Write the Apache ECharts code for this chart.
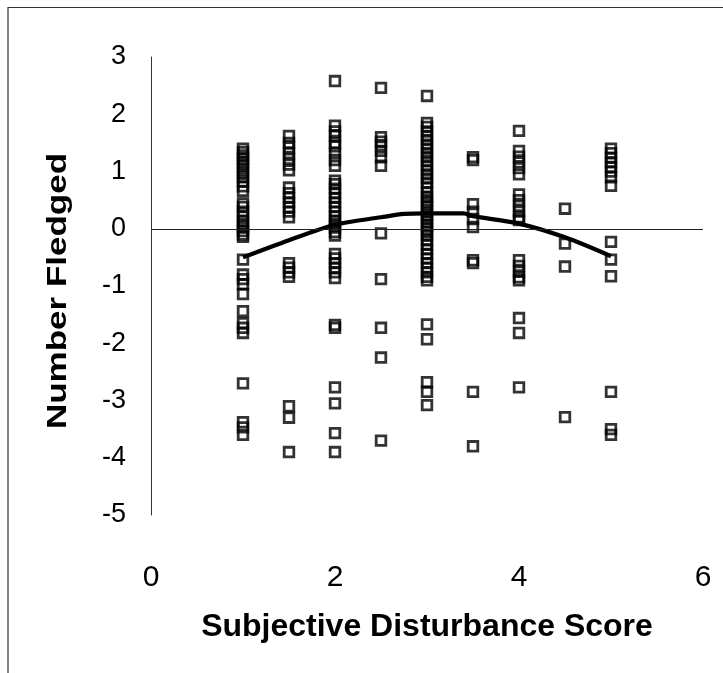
<!DOCTYPE html>
<html>
<head>
<meta charset="utf-8">
<script src="https://cdn.jsdelivr.net/npm/echarts@6/dist/echarts.min.js"></script>
<style>
  html, body { margin: 0; padding: 0; background: #fff; }
  #chart { width: 723px; height: 673px; }
</style>
</head>
<body>
<div id="chart"></div>
<script>
// Number fledged (residuals) observed at each subjective disturbance score
const scores = [1, 1.5, 2, 2.5, 3, 3.5, 4, 4.5, 5];

const fledgedScore1 = [1.4, 1.34, 1.28, 1.22, 1.16, 1.1, 1.03, 0.96, 0.9, 0.82, 0.74, 0.66,
  0.44, 0.38, 0.3, 0.22, 0.14, 0.08, 0.02, -0.04, -0.1, -0.14,
  -0.54, -0.8, -0.88, -0.97, -1.14, -1.44, -1.65, -1.73, -1.82, -2.7, -3.38, -3.47, -3.6];
const fledgedScore1_5 = [1.62, 1.5, 1.42, 1.32, 1.22, 1.12, 1.02,
  0.72, 0.62, 0.54, 0.46, 0.38, 0.3, 0.2, -0.6, -0.68, -0.76, -0.84, -3.1, -3.3, -3.9];
const fledgedScore2 = [2.58, 1.8, 1.7, 1.62, 1.5, 1.44, 1.32, 1.2, 1.1,
  0.84, 0.78, 0.7, 0.62, 0.54, 0.46, 0.38, 0.3, 0.22, 0.14, 0.08, 0.02, -0.06, -0.12,
  -0.44, -0.52, -0.6, -0.68, -0.76, -0.86, -1.68, -1.73, -2.77, -3.05, -3.57, -3.9];
const fledgedScore2_5 = [2.46, 1.6, 1.52, 1.46, 1.36, 1.25, 1.1, -0.08, -0.88, -1.73, -2.25, -3.7];
const fledgedScore3 = [2.32, 1.85, 1.78, 1.7, 1.62, 1.55, 1.47, 1.4, 1.32, 1.25, 1.18, 1.1,
  1.02, 0.95, 0.88, 0.8, 0.72, 0.64, 0.56, 0.5, 0.44, 0.38, 0.3, 0.24, 0.18, 0.12,
  0.06, 0.0, -0.06, -0.12, -0.2, -0.28, -0.36, -0.44, -0.52, -0.6, -0.68, -0.76, -0.84, -0.9,
  -1.67, -1.93, -2.68, -2.85, -3.08];
const fledgedScore3_5 = [1.25, 1.2, 0.43, 0.3, 0.17, 0.03, -0.55, -0.6, -2.85, -3.8];
const fledgedScore4 = [1.71, 1.36, 1.26, 1.16, 1.06, 0.95, 0.6, 0.5, 0.4, 0.3, 0.2, 0.15,
  -0.55, -0.65, -0.75, -0.85, -0.9, -1.56, -1.82, -2.77];
const fledgedScore4_5 = [0.35, -0.26, -0.66, -3.29];
const fledgedScore5 = [1.4, 1.32, 1.24, 1.16, 1.08, 1.0, 0.9, 0.75, -0.23, -0.54, -0.83, -2.85, -3.5, -3.6];

const fledgedByScore = [fledgedScore1, fledgedScore1_5, fledgedScore2, fledgedScore2_5,
  fledgedScore3, fledgedScore3_5, fledgedScore4, fledgedScore4_5, fledgedScore5];

// Fitted quadratic trend
const trendX = [1, 1.5, 2, 2.5, 2.75, 3, 3.4, 3.5, 4, 4.5, 5];
const trendY = [-0.5, -0.2, 0.07, 0.2, 0.26, 0.27, 0.27, 0.22, 0.09, -0.15, -0.48];

const xTicks = [0, 2, 4, 6];

const points = [];
scores.forEach((s, i) => fledgedByScore[i].forEach(v => points.push([s, v])));
const trend = trendX.map((x, i) => [x, trendY[i]]);

const chart = echarts.init(document.getElementById('chart'), null, { renderer: 'canvas' });
const font = '"Liberation Sans", Arial, sans-serif';

chart.setOption({
  backgroundColor: '#fff',
  animation: false,
  grid: { left: 151, right: 20, top: 57, bottom: 158 },
  xAxis: {
    type: 'value', min: 0, max: 6, interval: 2,
    axisLine: { show: false },
    axisTick: { show: false },
    splitLine: { show: false },
    axisLabel: {
      margin: 48, fontSize: 30, color: '#000', fontFamily: font,
      formatter: v => xTicks.includes(v) ? String(v) : ''
    },
    name: 'Subjective Disturbance Score',
    nameLocation: 'middle', nameGap: 96,
    nameTextStyle: { fontSize: 32, fontWeight: 'bold', color: '#000', fontFamily: font }
  },
  yAxis: {
    type: 'value', min: -5, max: 3, interval: 1,
    axisLine: { show: true, onZero: false, lineStyle: { color: '#333', width: 1 } },
    axisTick: { show: false },
    splitLine: { show: false },
    axisLabel: { margin: 25, fontSize: 27, color: '#000', fontFamily: font }
  },
  series: [
    {
      type: 'scatter',
      data: points,
      symbol: 'rect',
      symbolSize: 9.6,
      itemStyle: { color: 'rgba(0,0,0,0)', borderColor: '#000', borderWidth: 2.8 },
      markLine: {
        silent: true,
        symbol: ['none', 'none'],
        label: { show: false },
        lineStyle: { color: '#222', width: 1, type: 'solid' },
        data: [{ yAxis: 0 }]
      },
      z: 3
    },
    {
      type: 'line',
      data: trend,
      smooth: 0.3,
      symbol: 'none',
      lineStyle: { color: '#000', width: 4.2 },
      z: 4
    }
  ],
  graphic: [
    {
      type: 'polyline',
      shape: { points: [[8, 673], [8, 7.5], [723, 7.5]] },
      style: { stroke: '#333', lineWidth: 1.2, fill: null },
      silent: true
    },
    {
      // vertical axis title, stretched along its reading direction
      type: 'text',
      x: 58, y: 291,
      rotation: Math.PI / 2,
      scaleX: 1.25,
      style: {
        text: 'Number Fledged',
        font: 'bold 28px "Liberation Sans", Arial, sans-serif',
        fill: '#000',
        align: 'center',
        verticalAlign: 'middle'
      },
      silent: true
    }
  ]
});
</script>
</body>
</html>
